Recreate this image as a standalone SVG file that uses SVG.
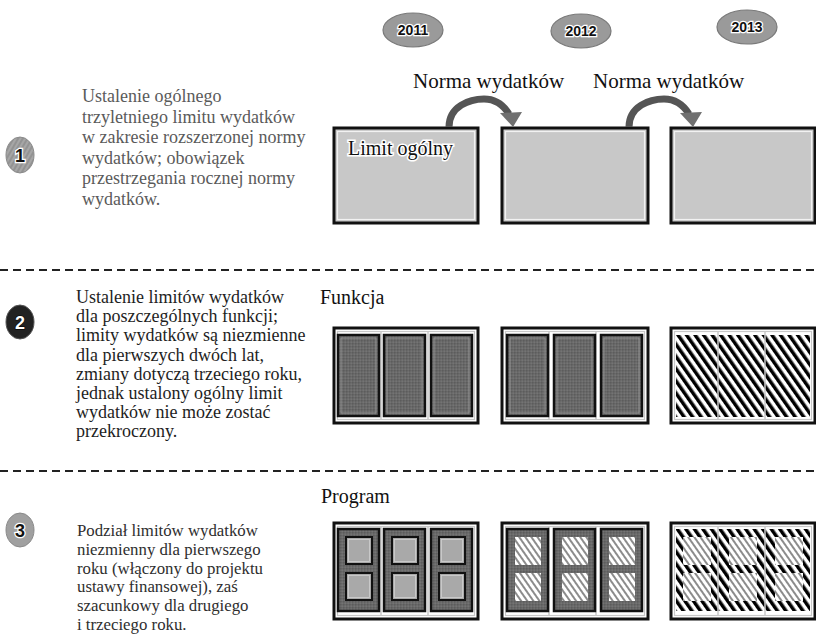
<svg xmlns="http://www.w3.org/2000/svg" width="816" height="634" viewBox="0 0 816 634">
<style>
.txt{font-family:"Liberation Serif","Times New Roman",serif;font-size:18px}
.t1{fill:#5a5a5a}.t2{fill:#1e1e1e}.t3{fill:#2e2e2e;font-size:16.8px}
.head{font-family:"Liberation Serif","Times New Roman",serif;font-size:20px;fill:#111}
.year{font-family:"Liberation Sans",Arial,sans-serif;font-weight:bold;font-size:14px;fill:#111;stroke:#fff;stroke-width:2.5;paint-order:stroke;text-anchor:middle}
.yel{fill:#9a9a9a;stroke:#7a7a7a;stroke-width:1.2}
.num{font-family:"Liberation Sans",Arial,sans-serif;font-weight:bold;font-size:18px;text-anchor:middle;paint-order:stroke}
.outer{fill:#fff;stroke:#111;stroke-width:3}
.frame{fill:none;stroke:#c8c8c8;stroke-width:1.2}
.sep{stroke:#c8c8c8;stroke-width:1.5}
.col{fill:url(#dark);stroke:#111;stroke-width:2.5}
.colin{fill:none;stroke:#9a9a9a;stroke-width:0.8}
.hb{fill:url(#hatchB)}
.hg{fill:url(#hatchG)}
.cell{fill:#a9a9a9;stroke:#111;stroke-width:2}
.cellin{fill:none;stroke:#d0d0d0;stroke-width:0.8}
.dash{stroke:#222;stroke-width:2;stroke-dasharray:8 5}
.arr{fill:none;stroke:#555;stroke-width:7;stroke-linecap:butt}
.ahead{fill:#707070}
</style>
<defs>
<pattern id="dark" width="3" height="3" patternUnits="userSpaceOnUse">
<rect width="3" height="3" fill="#686868"/>
<rect width="1.5" height="1.5" fill="#5c5c5c"/>
<rect x="1.5" y="1.5" width="1.5" height="1.5" fill="#747474"/>
</pattern>
<pattern id="hatchB" width="7" height="7" patternUnits="userSpaceOnUse" patternTransform="rotate(-35)">
<rect width="7" height="7" fill="#fff"/>
<rect width="3.5" height="7" fill="#000"/>
</pattern>
<pattern id="hatchG" width="5" height="5" patternUnits="userSpaceOnUse" patternTransform="rotate(-35)">
<rect width="5" height="5" fill="#fff"/>
<rect width="2" height="5" fill="#8c8c8c"/>
</pattern>
<pattern id="tex" width="4" height="4" patternUnits="userSpaceOnUse" patternTransform="rotate(30)">
<rect width="4" height="4" fill="#a6a6a6"/>
<rect width="2" height="4" fill="#939393"/>
</pattern>
</defs>

<!-- years -->
<g id="year2011"><ellipse class="yel" cx="413" cy="30" rx="30" ry="17"/><text class="year" x="413" y="35">2011</text></g>
<g id="year2012"><ellipse class="yel" cx="581" cy="31" rx="30" ry="17"/><text class="year" x="581" y="36">2012</text></g>
<g id="year2013"><ellipse class="yel" cx="747" cy="27" rx="30" ry="17"/><text class="year" x="747" y="32">2013</text></g>

<!-- section markers -->
<g id="num1"><ellipse cx="20" cy="155" rx="14" ry="18" fill="url(#tex)" stroke="#8a8a8a" stroke-width="1"/><text class="num" x="20" y="161.5" fill="#111" stroke="#fff" stroke-width="2.5">1</text></g>
<g id="num2"><ellipse cx="20" cy="322" rx="14" ry="17" fill="#222" stroke="#555" stroke-width="1"/><text class="num" x="20" y="328.5" fill="#fff" stroke="#000" stroke-width="1">2</text></g>
<g id="num3"><ellipse cx="20" cy="530" rx="14" ry="17" fill="#a0a0a0" stroke="#8a8a8a" stroke-width="1"/><text class="num" x="20" y="536.5" fill="#111" stroke="#fff" stroke-width="2.5">3</text></g>

<!-- descriptions -->
<g id="desc1" class="txt t1">
<text x="82" y="102">Ustalenie ogólnego</text>
<text x="82" y="122.5">trzyletniego limitu wydatków</text>
<text x="82" y="143">w zakresie rozszerzonej normy</text>
<text x="82" y="163.5">wydatków; obowiązek</text>
<text x="82" y="184">przestrzegania rocznej normy</text>
<text x="82" y="204.5">wydatków.</text>
</g>
<g id="desc2" class="txt t2">
<text x="76" y="303">Ustalenie limitów wydatków</text>
<text x="76" y="322.2">dla poszczególnych funkcji;</text>
<text x="76" y="341.4">limity wydatków są niezmienne</text>
<text x="76" y="360.6">dla pierwszych dwóch lat,</text>
<text x="76" y="379.8">zmiany dotyczą trzeciego roku,</text>
<text x="76" y="399">jednak ustalony ogólny limit</text>
<text x="76" y="418.2">wydatków nie może zostać</text>
<text x="76" y="437.4">przekroczony.</text>
</g>
<g id="desc3" class="txt t3">
<text x="77" y="536">Podział limitów wydatków</text>
<text x="77" y="554.8">niezmienny dla pierwszego</text>
<text x="77" y="573.6">roku (włączony do projektu</text>
<text x="77" y="592.4">ustawy finansowej), zaś</text>
<text x="77" y="611.2">szacunkowy dla drugiego</text>
<text x="77" y="630">i trzeciego roku.</text>
</g>

<!-- separators -->
<g id="separators">
<line class="dash" x1="0" y1="270" x2="816" y2="270"/>
<line class="dash" x1="0" y1="471" x2="816" y2="471"/>
</g>

<!-- headings -->
<g id="labels">
<text class="head" x="413" y="88" style="font-size:21px">Norma wydatków</text>
<text class="head" x="593" y="88" style="font-size:21px">Norma wydatków</text>
<text class="head" x="320" y="304">Funkcja</text>
<text class="head" x="321" y="503">Program</text>
</g>

<!-- row 1 -->
<g id="limit2011">
<rect x="334" y="128" width="144" height="95" fill="#c8c8c8" stroke="#111" stroke-width="3"/>
<rect x="337.5" y="131.5" width="137" height="88" fill="none" stroke="#f2f2f2" stroke-width="1.2"/>
<text x="348" y="155" style="font-family:'Liberation Serif','Times New Roman',serif;font-size:20px;fill:#111;stroke:#fff;stroke-width:3;paint-order:stroke">Limit ogólny</text>
</g>
<g id="limit2012">
<rect x="502" y="128" width="146" height="95" fill="#c8c8c8" stroke="#111" stroke-width="3"/>
<rect x="505.5" y="131.5" width="139" height="88" fill="none" stroke="#f2f2f2" stroke-width="1.2"/>
</g>
<g id="limit2013">
<rect x="671" y="128" width="144" height="95" fill="#c8c8c8" stroke="#111" stroke-width="3"/>
<rect x="674.5" y="131.5" width="137" height="88" fill="none" stroke="#f2f2f2" stroke-width="1.2"/>
</g>

<!-- connectors -->
<g id="connectors">
<path class="arr" d="M449,127 C449,106 470,99 484,99 C496,99 504,106 509,114"/>
<polygon class="ahead" points="500,113 522,112 513,127"/>
<path class="arr" d="M629,127 C629,106 650,99 664,99 C676,99 684,106 689,114"/>
<polygon class="ahead" points="680,113 702,112 693,127"/>
</g>

<!-- row 2 -->
<g id="funkcja2011" transform="translate(334,328)">
<rect class="outer" width="144" height="95"/>
<rect class="frame" x="3.5" y="3.5" width="137" height="88"/>
<line class="sep" x1="47" y1="3.5" x2="47" y2="91.5"/><line class="sep" x1="94" y1="3.5" x2="94" y2="91.5"/>
<rect class="col" x="4" y="7" width="41" height="81"/><rect class="colin" x="7" y="10" width="35" height="75"/>
<rect class="col" x="50" y="7" width="41" height="81"/><rect class="colin" x="53" y="10" width="35" height="75"/>
<rect class="col" x="97" y="7" width="41" height="81"/><rect class="colin" x="100" y="10" width="35" height="75"/>
</g>
<g id="funkcja2012" transform="translate(502,328)">
<rect class="outer" width="146" height="95"/>
<rect class="frame" x="3.5" y="3.5" width="139" height="88"/>
<line class="sep" x1="47" y1="3.5" x2="47" y2="91.5"/><line class="sep" x1="94" y1="3.5" x2="94" y2="91.5"/>
<rect class="col" x="5" y="7" width="41" height="81"/><rect class="colin" x="8" y="10" width="35" height="75"/>
<rect class="col" x="52" y="7" width="41" height="81"/><rect class="colin" x="55" y="10" width="35" height="75"/>
<rect class="col" x="99" y="7" width="41" height="81"/><rect class="colin" x="102" y="10" width="35" height="75"/>
</g>
<g id="funkcja2013" transform="translate(671,328)">
<rect class="outer" width="144" height="95"/>
<rect class="hb" x="5" y="7" width="134" height="82"/>
<rect class="frame" x="3.5" y="3.5" width="137" height="88"/>
<line class="sep" x1="47" y1="3.5" x2="47" y2="91.5"/><line class="sep" x1="94" y1="3.5" x2="94" y2="91.5"/>
</g>

<!-- row 3 -->
<g id="program2011" transform="translate(334,523)">
<rect class="outer" width="144" height="96"/>
<rect class="frame" x="3.5" y="3.5" width="137" height="89"/>
<line class="sep" x1="47" y1="3.5" x2="47" y2="92.5"/><line class="sep" x1="94" y1="3.5" x2="94" y2="92.5"/>
<rect class="col" x="4" y="6" width="41" height="82"/>
<rect class="col" x="50" y="6" width="41" height="82"/>
<rect class="col" x="97" y="6" width="41" height="82"/>
<rect class="cell" x="12" y="14" width="26" height="27"/><rect class="cellin" x="14.5" y="16.5" width="21" height="22"/>
<rect class="cell" x="12" y="50" width="26" height="27"/><rect class="cellin" x="14.5" y="52.5" width="21" height="22"/>
<rect class="cell" x="58" y="14" width="26" height="27"/><rect class="cellin" x="60.5" y="16.5" width="21" height="22"/>
<rect class="cell" x="58" y="50" width="26" height="27"/><rect class="cellin" x="60.5" y="52.5" width="21" height="22"/>
<rect class="cell" x="105" y="14" width="26" height="27"/><rect class="cellin" x="107.5" y="16.5" width="21" height="22"/>
<rect class="cell" x="105" y="50" width="26" height="27"/><rect class="cellin" x="107.5" y="52.5" width="21" height="22"/>
</g>
<g id="program2012" transform="translate(502,523)">
<rect class="outer" width="146" height="96"/>
<rect class="frame" x="3.5" y="3.5" width="139" height="89"/>
<line class="sep" x1="47" y1="3.5" x2="47" y2="92.5"/><line class="sep" x1="94" y1="3.5" x2="94" y2="92.5"/>
<rect class="col" x="5" y="6" width="41" height="82"/>
<rect class="col" x="52" y="6" width="41" height="82"/>
<rect class="col" x="99" y="6" width="41" height="82"/>
<rect class="hg" x="13" y="14" width="26" height="28"/>
<rect class="hg" x="13" y="50" width="26" height="28"/>
<rect class="hg" x="60" y="14" width="26" height="28"/>
<rect class="hg" x="60" y="50" width="26" height="28"/>
<rect class="hg" x="107" y="14" width="26" height="28"/>
<rect class="hg" x="107" y="50" width="26" height="28"/>
</g>
<g id="program2013" transform="translate(671,523)">
<rect class="outer" width="144" height="96"/>
<rect class="hb" x="5" y="6" width="134" height="82"/>
<rect class="hg" x="12" y="14" width="28" height="28"/>
<rect class="hg" x="12" y="50" width="28" height="28"/>
<rect class="hg" x="58" y="14" width="28" height="28"/>
<rect class="hg" x="58" y="50" width="28" height="28"/>
<rect class="hg" x="104" y="14" width="28" height="28"/>
<rect class="hg" x="104" y="50" width="28" height="28"/>
<rect class="frame" x="3.5" y="3.5" width="137" height="89"/>
<line class="sep" x1="47" y1="3.5" x2="47" y2="92.5"/><line class="sep" x1="94" y1="3.5" x2="94" y2="92.5"/>
</g>
</svg>
